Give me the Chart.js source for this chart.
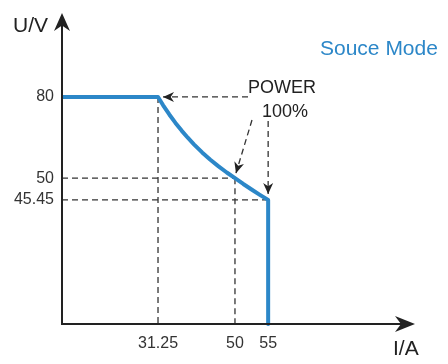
<!DOCTYPE html>
<html>
<head>
<meta charset="utf-8">
<script src="https://cdn.jsdelivr.net/npm/chart.js@4.4.1/dist/chart.umd.min.js"></script>
<style>
  html, body { margin: 0; padding: 0; background: #fff; }
  #wrap { width: 448px; height: 364px; }
</style>
</head>
<body>
<div id="wrap"><canvas id="c"></canvas></div>
<script>
// constant power curve (I in A, U in V)
const currentA = [0, 31.25, 32.5, 34, 35.5, 37, 38.5, 40, 42, 44, 46, 48, 50, 51.25, 52.5, 53.75, 55, 55];
const voltageV = [80, 80, 76.92, 73.53, 70.42, 67.57, 64.94, 62.5, 59.52, 56.82, 54.35, 52.08, 50, 48.78, 47.62, 46.51, 45.45, 0];
const xTicks = [31.25, 50, 55];
const yTicks = [45.45, 50, 80];

// the sketch is not to scale: piecewise axis stops (value -> fraction of axis)
const xStops = [0, 31.25, 50, 55, 100];
const xFracs = [0, 0.272, 0.490, 0.584, 1];
const yStops = [0, 45.45, 50, 80, 100];
const yFracs = [0, 0.399, 0.469, 0.730, 1];

const BLUE = '#2c87c8';
const INK = '#222';
const FONT = '"Liberation Sans", Arial, sans-serif';

function warp(from, to, v) {
    for (let i = 1; i < from.length; i++) {
        if (v <= from[i] || i === from.length - 1) {
            const t = (v - from[i - 1]) / (from[i] - from[i - 1]);
            return to[i - 1] + t * (to[i] - to[i - 1]);
        }
    }
}

class WarpScale extends Chart.LinearScale {
    stops() {
        return this.axis === 'x' ? [xStops, xFracs] : [yStops, yFracs];
    }
    getPixelForValue(value) {
        if (value === null || value === undefined) return NaN;
        const [s, f] = this.stops();
        return this.getPixelForDecimal(warp(s, f, value));
    }
    getValueForPixel(pixel) {
        const [s, f] = this.stops();
        return warp(f, s, this.getDecimalForPixel(pixel));
    }
}
WarpScale.id = 'warp';
WarpScale.defaults = Chart.LinearScale.defaults;
Chart.register(WarpScale);

function noPad(s) {
    s.paddingTop = 0;
    s.paddingBottom = 0;
    s.paddingLeft = 0;
    s.paddingRight = 0;
}

function arrowHead(ctx, x, y, angle, len, half) {
    ctx.save();
    ctx.translate(x, y);
    ctx.rotate(angle);
    ctx.beginPath();
    ctx.moveTo(0, 0);
    ctx.lineTo(-len, -half);
    ctx.lineTo(-len * 0.7, 0);
    ctx.lineTo(-len, half);
    ctx.closePath();
    ctx.fill();
    ctx.restore();
}

function dashed(ctx, x1, y1, x2, y2) {
    ctx.beginPath();
    ctx.moveTo(x1, y1);
    ctx.lineTo(x2, y2);
    ctx.stroke();
}

function dashedArrow(ctx, x1, y1, x2, y2) {
    dashed(ctx, x1, y1, x2, y2);
    ctx.setLineDash([]);
    arrowHead(ctx, x2, y2, Math.atan2(y2 - y1, x2 - x1), 11, 5);
    ctx.setLineDash([6, 4]);
}

const guides = {
    id: 'guides',
    beforeDatasetsDraw(chart) {
        const { ctx, scales: { x, y }, chartArea: a } = chart;
        ctx.save();
        ctx.strokeStyle = '#333';
        ctx.lineWidth = 1.3;
        ctx.setLineDash([6, 4]);
        dashed(ctx, x.getPixelForValue(31.25), y.getPixelForValue(80), x.getPixelForValue(31.25), a.bottom);
        dashed(ctx, x.getPixelForValue(50), y.getPixelForValue(50), x.getPixelForValue(50), a.bottom);
        dashed(ctx, a.left, y.getPixelForValue(50), x.getPixelForValue(50), y.getPixelForValue(50));
        dashed(ctx, a.left, y.getPixelForValue(45.45), x.getPixelForValue(55), y.getPixelForValue(45.45));
        ctx.restore();
    },
    afterDatasetsDraw(chart) {
        const { ctx, scales: { x, y }, chartArea: a } = chart;
        ctx.save();
        // annotation arrows
        ctx.strokeStyle = '#333';
        ctx.fillStyle = '#222';
        ctx.lineWidth = 1.3;
        ctx.setLineDash([6, 4]);
        dashedArrow(ctx, 248, y.getPixelForValue(80), x.getPixelForValue(31.25) + 5, y.getPixelForValue(80));
        dashedArrow(ctx, 252, 120, x.getPixelForValue(50) + 1, y.getPixelForValue(50) - 5);
        dashedArrow(ctx, x.getPixelForValue(55), 121, x.getPixelForValue(55), y.getPixelForValue(45.45) - 6);
        ctx.setLineDash([]);

        // axes with arrows
        ctx.strokeStyle = INK;
        ctx.fillStyle = INK;
        ctx.lineWidth = 2;
        ctx.beginPath();
        ctx.moveTo(a.left, a.top + 8);
        ctx.lineTo(a.left, a.bottom);
        ctx.lineTo(a.right - 8, a.bottom);
        ctx.stroke();
        arrowHead(ctx, a.left, a.top, -Math.PI / 2, 18, 8);
        arrowHead(ctx, a.right, a.bottom, 0, 20, 8);

        // texts
        ctx.textBaseline = 'alphabetic';
        ctx.textAlign = 'left';
        ctx.font = '21px ' + FONT;
        ctx.fillText('U/V', 13, 32);
        ctx.fillText('I/A', 393, 355);
        ctx.fillStyle = BLUE;
        ctx.fillText('Souce Mode', 320, 55);
        ctx.fillStyle = INK;
        ctx.font = '18px ' + FONT;
        ctx.fillText('POWER', 248, 93);
        ctx.fillText('100%', 262, 117);
        ctx.restore();
    }
};

new Chart(document.getElementById('c'), {
    type: 'line',
    data: {
        labels: currentA,
        datasets: [{
            data: currentA.map((v, i) => ({ x: v, y: voltageV[i] })),
            borderColor: BLUE,
            borderWidth: 4,
            pointRadius: 0,
            tension: 0,
            fill: false,
            clip: false,
            borderJoinStyle: 'round'
        }]
    },
    options: {
        responsive: true,
        maintainAspectRatio: false,
        animation: false,
        layout: { padding: { top: 13, right: 33, left: 0, bottom: 0 } },
        plugins: { legend: { display: false }, tooltip: { enabled: false } },
        scales: {
            x: {
                type: 'warp',
                min: 0,
                max: 100,
                grid: { display: false, drawTicks: false },
                border: { display: false },
                afterBuildTicks: s => { s.ticks = xTicks.map(v => ({ value: v })); },
                afterFit: s => { s.height = 40; noPad(s); },
                ticks: {
                    autoSkip: false,
                    maxRotation: 0,
                    padding: 10,
                    color: '#333',
                    font: { family: FONT, size: 16 },
                    callback: v => String(v)
                }
            },
            y: {
                type: 'warp',
                min: 0,
                max: 100,
                grid: { display: false, drawTicks: false },
                border: { display: false },
                afterBuildTicks: s => { s.ticks = yTicks.map(v => ({ value: v })); },
                afterFit: s => { s.width = 62; noPad(s); },
                ticks: {
                    autoSkip: false,
                    padding: 8,
                    color: '#333',
                    font: { family: FONT, size: 16 },
                    callback: v => String(v)
                }
            }
        }
    },
    plugins: [guides]
});
</script>
</body>
</html>
